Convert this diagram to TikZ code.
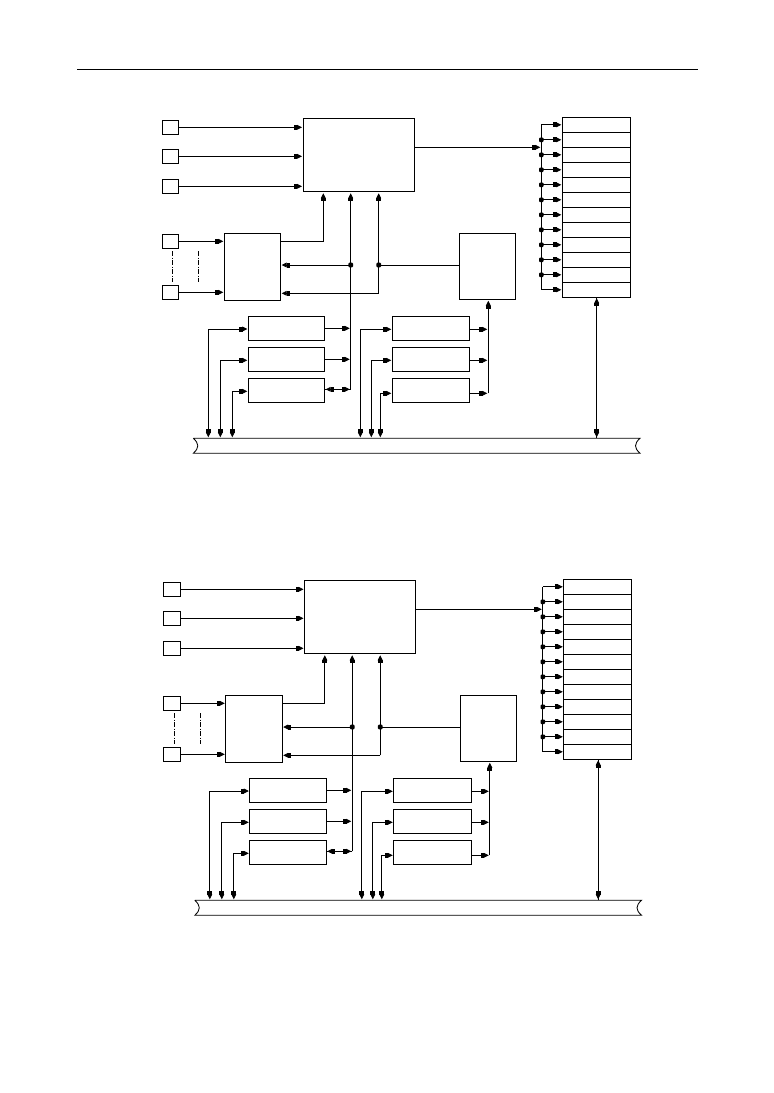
\documentclass[tikz,border=0pt]{standalone}
\usetikzlibrary{arrows.meta,calc}
\tikzset{
  x=1pt,y=-1pt,
  blk/.tip={Rectangle[length=3.2pt,width=4.8pt,sep=-0.2pt]Triangle[length=5pt,width=4.8pt,sep=0pt]},
  wire/.style={line width=0.85pt,line cap=butt},
  arr/.style={wire,-{blk},shorten >=1pt},
  bx/.style={draw,line width=0.85pt,rectangle,inner sep=0pt,outer sep=0pt,anchor=north west},
  dot/.style={rectangle,rounded corners=1pt,fill=black,inner sep=0pt,minimum size=4.6pt},
  dd/.style={line width=0.6pt,dash pattern=on 5pt off 1.5pt on 1pt off 1.5pt}
}
\newcommand{\bxx}[5]{%
  \pgfmathsetmacro{\bxw}{#4-#2}\pgfmathsetmacro{\bxh}{#5-#3}%
  \node[bx,minimum width=\bxw pt,minimum height=\bxh pt] (#1) at (#2,#3) {};}
\newcommand{\panel}[3]{%
\begin{scope}[xshift=#2pt,yshift=-#3pt]
  % boxes
  \bxx{#1main}{303}{118.3}{414.3}{191.3}
  \bxx{#1s1}{162.3}{120.3}{178.7}{134.3}
  \bxx{#1s2}{162.3}{149.3}{178.7}{163.3}
  \bxx{#1s3}{162.3}{179.3}{178.7}{193.3}
  \bxx{#1s4}{162.3}{234.3}{178.7}{248.3}
  \bxx{#1s5}{162.3}{285.3}{178.7}{299.3}
  \bxx{#1A}{224.3}{233.3}{280.7}{300.3}
  \bxx{#1C}{459.3}{233.3}{515.3}{299.3}
  \bxx{#1L1}{248.3}{316.3}{324.7}{340.5}
  \bxx{#1L2}{248.3}{347.3}{324.7}{371.5}
  \bxx{#1L3}{248.3}{378.3}{324.7}{402.5}
  \bxx{#1R1}{392.3}{316.3}{469.7}{340.5}
  \bxx{#1R2}{392.3}{347.3}{469.7}{371.5}
  \bxx{#1R3}{392.3}{378.3}{469.7}{402.5}
  \foreach \i in {1,...,12}{
    \pgfmathsetmacro{\ya}{117.3+15*(\i-1)}
    \pgfmathsetmacro{\yb}{\ya+15}
    \bxx{#1r\i}{562.3}{\ya}{630.3}{\yb}
  }
  % bus
  \node[rectangle,inner sep=0pt,outer sep=0pt,anchor=north west,minimum width=446.7pt,minimum height=15pt] (#1bus) at (193.3,438.3) {};
  \draw[wire] (#1bus.north west) -- (#1bus.north east)
     .. controls ($(#1bus.east)+(-6,-2)$) and ($(#1bus.east)+(-6,2)$) .. (#1bus.south east)
     -- (#1bus.south west)
     .. controls ($(#1bus.west)+(6,2)$) and ($(#1bus.west)+(6,-2)$) .. (#1bus.north west);
  % named points
  \coordinate (#1v1) at (350.7,265);
  \coordinate (#1v2) at (378.7,265);
  \coordinate (#1v1b) at (350.7,389.3);
  \coordinate (#1v2b) at (378.7,293.3);
  \coordinate (#1o) at (323.3,241.3);
  \coordinate (#1rb) at (541.3,147.3);
  \coordinate (#1cv) at (488.3,393.3);
  \coordinate (#1l1) at (208.3,329);
  \coordinate (#1l2) at (220.3,360.3);
  \coordinate (#1l3) at (232.3,391.3);
  \coordinate (#1m1) at (360.3,329.3);
  \coordinate (#1m2) at (371.3,360.3);
  \coordinate (#1m3) at (380.3,393.3);
  \coordinate (#1dl1) at (172.7,251);
  \coordinate (#1dl2) at (172.7,281.7);
  \coordinate (#1dr1) at (198.3,251);
  \coordinate (#1dr2) at (198.3,281.7);
  \coordinate (#1regx) at (596.7,297.3);
  % inputs to main
  \foreach \k/\y in {s1/127.3,s2/156.3,s3/186.3}
    \draw[arr] (#1\k.east |- 0,\y) -- (#1main.west |- 0,\y);
  % inputs to A
  \draw[arr] (#1s4.east) -- (#1s4.east -| #1A.west);
  \draw[arr] (#1s5.east) -- (#1s5.east -| #1A.west);
  \draw[dd] (#1dl1) -- (#1dl2);
  \draw[dd] (#1dr1) -- (#1dr2);
  % A to main
  \draw[wire,-{blk},shorten >=2pt] (#1A.east |- #1o) -- (#1o) -- (#1o |- #1main.south);
  % verticals to main
  \draw[wire,-{blk},shorten >=2pt] (#1v1b) -- (#1v1 |- #1main.south);
  \draw[wire,-{blk},shorten >=2pt] (#1v2b) -- (#1v2 |- #1main.south);
  % back to A
  \draw[arr] (#1v1) -- (#1v1 -| #1A.east);
  \draw[arr] (#1v2b) -- (#1v2b -| #1A.east);
  \draw[wire] (#1v2) -- (#1v2 -| #1C.west);
  \node[dot] at (#1v1) {};
  \node[dot] at (#1v2) {};
  % left rows to vertical
  \draw[arr] (#1L1.east |- 0,328.3) -- (#1v1 |- 0,328.3);
  \draw[arr] (#1L2.east |- 0,359.3) -- (#1v1 |- 0,359.3);
  \draw[arr] (#1v1b) -- (#1v1b -| #1L3.east);
  \draw[arr] (#1L3.east |- #1v1b) -- (#1v1b);
  % bus to left rows
  \foreach \c/\b in {l1/L1,l2/L2,l3/L3,m1/R1,m2/R2,m3/R3}{
    \draw[arr] (#1\c) -- (#1\c -| #1\b.west);
    \draw[arr] (#1\c) -- (#1\c |- #1bus.north);
  }
  % right rows to C
  \draw[arr] (#1R1.east |- #1m1) -- (#1m1 -| #1cv);
  \draw[arr] (#1R2.east |- #1m2) -- (#1m2 -| #1cv);
  \draw[arr] (#1R3.east |- #1cv) -- (#1cv);
  \draw[wire,-{blk},shorten >=1.5pt] (#1cv) -- (#1cv |- #1C.south);
  % main to register bus
  \draw[arr] (#1main.east |- #1rb) -- (#1rb);
  \draw[wire] (#1rb |- #1r1.west) -- (#1rb |- #1r12.west);
  \foreach \i in {1,...,12}
    \draw[arr] (#1rb |- #1r\i.west) -- (#1r\i.west);
  \foreach \i in {2,...,11}
    \node[dot] at (#1rb |- #1r\i.west) {};
  % register to bus
  \draw[arr] (#1regx) -- (#1regx |- #1bus.north);
  \draw[arr] (#1regx |- #1bus.north) -- (#1regx);
\end{scope}}
\begin{document}
\begin{tikzpicture}
  \useasboundingbox (0,0) rectangle (774,1093);
  \fill[white] (0,0) rectangle (774,1093);
  \coordinate (ruleL) at (77,69.5);
  \coordinate (ruleR) at (698,69.5);
  \draw[line width=0.85pt] (ruleL) -- (ruleR);
  \panel{a}{0}{0}
  \panel{b}{1.5}{462}
\end{tikzpicture}
\end{document}
